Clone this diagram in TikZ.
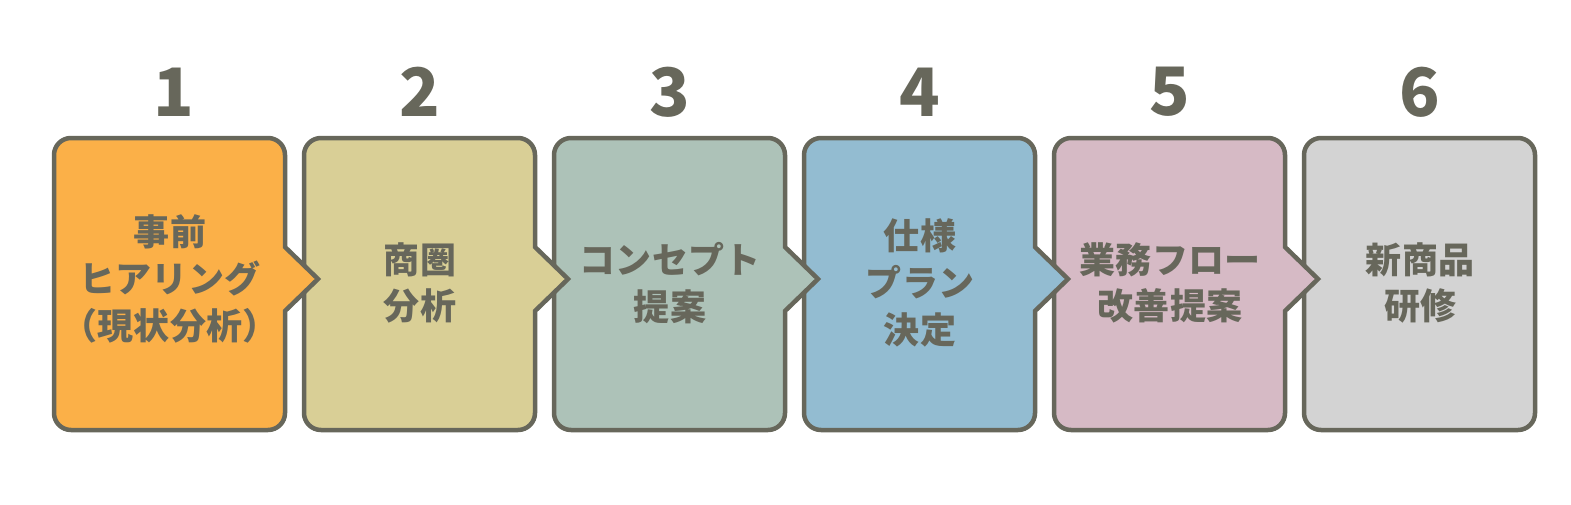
\documentclass[tikz,border=0pt]{standalone}
\usepackage{fontspec}
\newfontfamily\jpfont{Noto Sans CJK JP}[BoldFont={Noto Sans CJK JP Black}]
\definecolor{ink}{HTML}{67675B}
\definecolor{fillA}{HTML}{FBB048}
\definecolor{fillB}{HTML}{D9CF96}
\definecolor{fillC}{HTML}{ADC2B8}
\definecolor{fillD}{HTML}{93BCD1}
\definecolor{fillE}{HTML}{D6BAC5}
\definecolor{fillF}{HTML}{D3D3D3}

\begin{document}
\begin{tikzpicture}[x=0.02cm, y=-0.02cm]
\tikzset{
    stepbox/.style= {draw=ink, line width=0.09cm, line join=miter},
    stepnum/.style= {text=ink, inner sep=0pt, font=\jpfont\bfseries\fontsize{38}{40}\selectfont},
    steplabel/.style= {text=ink, align=center, inner sep=0pt, font=\jpfont\bfseries\fontsize{20.5}{26.6}\selectfont},
}
\useasboundingbox (0,0) rectangle (1571,504);

% boxes, right to left so each arrow lies over the next box
\draw[stepbox, fill=fillF, rounded corners=0.34cm] (1304,138) rectangle (1535,430);
\draw[stepbox, fill=fillE] (1054,284) [rounded corners=0.34cm] |- (1285,138) -- (1285,200) [sharp corners] -- (1285,247) -- (1318,279) -- (1285,311) -- (1285,370) [rounded corners=0.34cm] -- (1285,430) -- (1054,430) -- cycle;
\draw[stepbox, fill=fillD] (804,284) [rounded corners=0.34cm] |- (1035,138) -- (1035,200) [sharp corners] -- (1035,247) -- (1068,279) -- (1035,311) -- (1035,370) [rounded corners=0.34cm] -- (1035,430) -- (804,430) -- cycle;
\draw[stepbox, fill=fillC] (554,284) [rounded corners=0.34cm] |- (785,138) -- (785,200) [sharp corners] -- (785,247) -- (818,279) -- (785,311) -- (785,370) [rounded corners=0.34cm] -- (785,430) -- (554,430) -- cycle;
\draw[stepbox, fill=fillB] (304,284) [rounded corners=0.34cm] |- (535,138) -- (535,200) [sharp corners] -- (535,247) -- (568,279) -- (535,311) -- (535,370) [rounded corners=0.34cm] -- (535,430) -- (304,430) -- cycle;
\draw[stepbox, fill=fillA] (54,284) [rounded corners=0.34cm] |- (285,138) -- (285,200) [sharp corners] -- (285,247) -- (318,279) -- (285,311) -- (285,370) [rounded corners=0.34cm] -- (285,430) -- (54,430) -- cycle;

\node[stepnum] (n1) at (174,92) {1};
\node[stepnum] (n2) at (420,92) {2};
\node[stepnum] (n3) at (670,92) {3};
\node[stepnum] (n4) at (920,92) {4};
\node[stepnum] (n5) at (1170,92) {5};
\node[stepnum] (n6) at (1420,92) {6};

\node[steplabel] (s1) at (170,279) {事前\\ヒアリング\\（現状分析）};
\node[steplabel] (s2) at (420,283) {商圏\\分析};
\node[steplabel] (s3) at (670,283) {コンセプト\\提案};
\node[steplabel] (s4) at (920,283) {仕様\\プラン\\決定};
\node[steplabel] (s5) at (1170,283) {業務フロー\\改善提案};
\node[steplabel] (s6) at (1420,283) {新商品\\研修};
\end{tikzpicture}
\end{document}
